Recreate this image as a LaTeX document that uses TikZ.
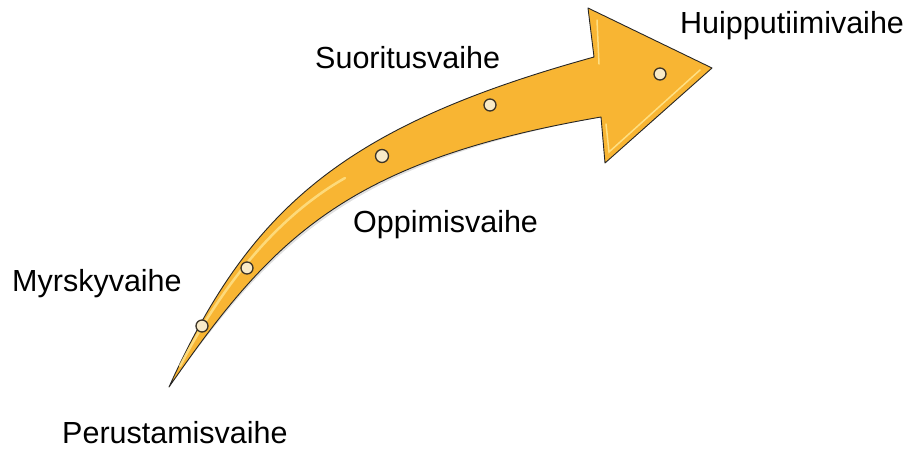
\documentclass[tikz,border=0pt]{standalone}
\usepackage{fontspec}
\setmainfont{Liberation Sans}
\usetikzlibrary{positioning}

\definecolor{arrowfill}{RGB}{248,181,51}
\definecolor{arrowglow}{RGB}{255,228,140}
\definecolor{dotfill}{RGB}{248,234,200}
\definecolor{dotline}{RGB}{60,52,40}

\begin{document}
\begin{tikzpicture}[
  x=1pt, y=-1pt,
  phase/.style={inner sep=0pt, anchor=base west, font=\fontsize{30.5}{36}\selectfont},
  dot/.style={circle, draw=dotline, line width=1.3pt, fill=dotfill, minimum size=12pt, inner sep=0pt},
  outline/.style={draw=black!85, line width=0.9pt, line join=round}
]
\useasboundingbox (0,0) rectangle (909,448);

% curved arrow
\coordinate (tail) at (169,387);
\coordinate (topnotch) at (594,57);
\coordinate (topcorner) at (588,8);
\coordinate (tip) at (712,68);
\coordinate (botcorner) at (605,163);
\coordinate (botnotch) at (601,117);

\fill[black, opacity=0.12, xshift=2pt, yshift=-3pt]
  (tail) .. controls (250,208) and (344,126) .. (topnotch)
  -- (topcorner) -- (tip) -- (botcorner) -- (botnotch)
  .. controls (345,161) and (272,239) .. (tail) -- cycle;
\filldraw[outline, fill=arrowfill]
  (tail) .. controls (250,208) and (344,126) .. (topnotch)
  -- (topcorner) -- (tip) -- (botcorner) -- (botnotch)
  .. controls (345,161) and (272,239) .. (tail) -- cycle;

% highlights
\draw[arrowglow, line width=2.5pt, line cap=round, opacity=0.8]
  (180,366) .. controls (225,280) and (280,215) .. (345,178);
\draw[arrowglow, line width=1.5pt, line cap=round, opacity=0.9]
  (597,20) -- (599,64) (606,124) -- (609,152) -- (700,70);

% phase markers
\node[dot] (d1) at (202,326) {};
\node[dot] (d2) at (247,268) {};
\node[dot, minimum size=13pt] (d3) at (382,156) {};
\node[dot] (d4) at (490,105) {};
\node[dot] (d5) at (660,74) {};

% labels
\node[phase] (perustamis) at (62,443) {Perustamisvaihe};
\node[phase] (myrsky) at (12,291) {Myrskyvaihe};
\node[phase] (oppimis) at (353,232) {Oppimisvaihe};
\node[phase] (suoritus) at (315,68) {Suoritusvaihe};
\node[phase] (huippu) at (680,33) {Huipputiimivaihe};
\end{tikzpicture}
\end{document}
